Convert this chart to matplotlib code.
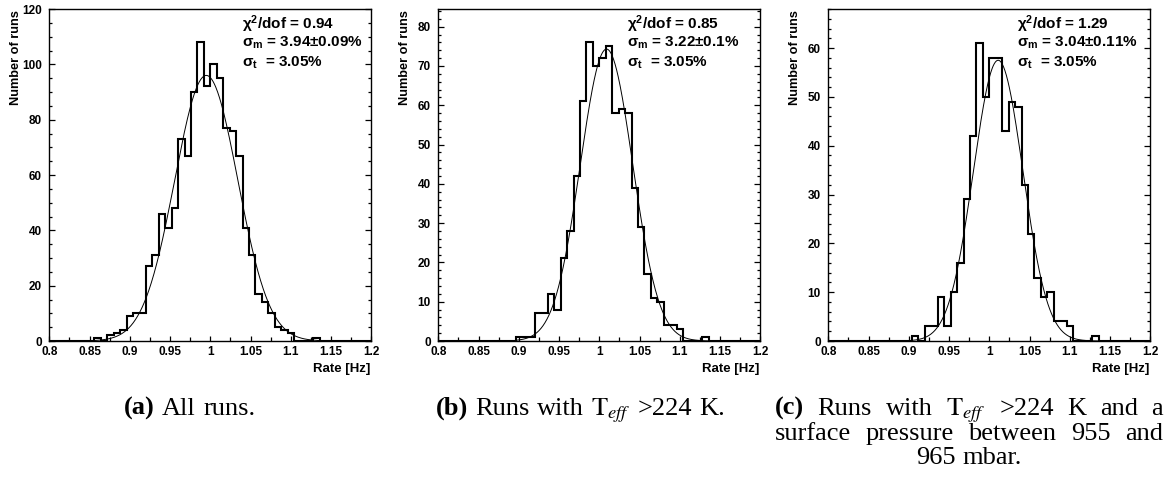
import numpy as np
import matplotlib
matplotlib.use("Agg")
import matplotlib.pyplot as plt
from matplotlib.ticker import MultipleLocator

W, H = 1167, 492
plt.rcParams.update({
    'font.family': ['Liberation Sans', 'DejaVu Sans'],
    'mathtext.fontset': 'custom',
    'mathtext.rm': 'Liberation Sans:bold',
    'mathtext.it': 'Liberation Sans:italic:bold',
    'mathtext.bf': 'Liberation Sans:bold',
})

# ---------------- data ----------------
hist_range = (0.8, 1.2)
n_bins = 50

counts_a = [0, 0, 0, 0, 0, 0, 0, 1, 0, 2,
            3, 4, 9, 10, 10, 27, 31, 46, 41, 48,
            73, 67, 90, 108, 92, 100, 95, 77, 76, 67,
            41, 31, 17, 14, 10, 5, 4, 3, 0, 0,
            0, 1, 0, 0, 0, 0, 0, 0, 0, 0]
counts_b = [0, 0, 0, 0, 0, 0, 0, 0, 0, 0,
            0, 0, 1, 1, 1, 7, 7, 12, 8, 21,
            28, 42, 61, 76, 70, 72, 75, 58, 59, 58,
            39, 29, 17, 11, 10, 4, 4, 3, 0, 0,
            0, 1, 0, 0, 0, 0, 0, 0, 0, 0]
counts_c = [0, 0, 0, 0, 0, 0, 0, 0, 0, 0,
            0, 0, 0, 1, 0, 3, 3, 9, 3, 10,
            16, 29, 42, 61, 50, 58, 58, 43, 49, 48,
            32, 22, 13, 9, 10, 4, 4, 3, 0, 0,
            0, 1, 0, 0, 0, 0, 0, 0, 0, 0]

# Gaussian fits: amplitude, mean, sigma, drawn range
fit_a = (96.0, 0.995, 0.0392, 0.856, 1.136)
fit_b = (74.3, 1.009, 0.0325, 0.896, 1.136)
fit_c = (57.5, 1.011, 0.0307, 0.904, 1.136)

stats_a = ("0.94", "3.94", "0.09", "3.05")
stats_b = ("0.85", "3.22", "0.1", "3.05")
stats_c = ("1.29", "3.04", "0.11", "3.05")

y_max = (120, 84.5, 68)
y_major = (20, 10, 10)
y_minor = (5, 2, 2)

x_ticks = [0.8, 0.85, 0.9, 0.95, 1.0, 1.05, 1.1, 1.15, 1.2]
x_tick_labels = ["0.8", "0.85", "0.9", "0.95", "1", "1.05", "1.1", "1.15", "1.2"]

y_label = "Number of runs"
x_label = "Rate [Hz]"

# ---------------- layout (pixels) ----------------
panel_left = (49.3, 438.3, 828.3)
panel_width = 322.0
ax_top, ax_bottom = 9.0, 341.0
stats_x = (0.597, 0.586, 0.586)

fig = plt.figure(figsize=(W / 100, H / 100), dpi=100)

counts_all = (counts_a, counts_b, counts_c)
fits = (fit_a, fit_b, fit_c)
stats = (stats_a, stats_b, stats_c)
edges = np.linspace(hist_range[0], hist_range[1], n_bins + 1)

for i in range(3):
    l = panel_left[i]
    ax = fig.add_axes([l / W, 1 - ax_bottom / H, panel_width / W, (ax_bottom - ax_top) / H])
    ax.stairs(counts_all[i], edges, color='black', lw=1.5, baseline=0)
    amp, mu, sig, lo, hi = fits[i]
    xs = np.linspace(lo, hi, 500)
    ax.plot(xs, amp * np.exp(-0.5 * ((xs - mu) / sig) ** 2), color='black', lw=0.7)
    ax.set_xlim(*hist_range)
    ax.set_ylim(0, y_max[i])
    ax.set_xticks(x_ticks)
    ax.set_xticklabels(x_tick_labels)
    ax.xaxis.set_minor_locator(MultipleLocator(0.025))
    ax.yaxis.set_major_locator(MultipleLocator(y_major[i]))
    ax.yaxis.set_minor_locator(MultipleLocator(y_minor[i]))
    ax.tick_params(which='both', direction='in', right=True, top=False, labelsize=8.5,
                   width=0.9)
    ax.tick_params(axis='y', which='both', pad=5.5)
    ax.tick_params(axis='x', which='both', pad=3.5)
    ax.tick_params(axis='y', which='major', length=4.5)
    ax.tick_params(axis='y', which='minor', length=2.3)
    ax.tick_params(axis='x', which='major', length=3.8)
    ax.tick_params(axis='x', which='minor', length=3.0)
    for lab in ax.get_xticklabels() + ax.get_yticklabels():
        lab.set_fontweight('bold')
    for sp in ax.spines.values():
        sp.set_linewidth(1.0)

    chi, sm, dsm, st = stats[i]
    sx = stats_x[i]
    kw = dict(transform=ax.transAxes, fontsize=11, fontweight='bold',
              math_fontfamily='custom', va='baseline', ha='left')
    ax.text(sx, 1 - (29 - ax_top) / (ax_bottom - ax_top), r"$\mathrm{\chi^{2}}$/dof = " + chi, **kw)
    ax.text(sx, 1 - (47 - ax_top) / (ax_bottom - ax_top), r"$\mathrm{\sigma_{m}}$ = " + sm + "\u00b1" + dsm + "%", **kw)
    ax.text(sx, 1 - (66.5 - ax_top) / (ax_bottom - ax_top), r"$\mathrm{\sigma_{t}}$  = " + st + "%", **kw)

    fig.text((l - 33.5) / W, 1 - 10 / H, y_label, rotation=90, ha='center', va='top',
             fontsize=9.2, fontweight='bold')
    fig.text((l + panel_width - 1) / W, 1 - 369 / H, x_label, ha='right', va='center',
             fontsize=9.5, fontweight='bold')

# ---------------- captions ----------------
serif = ['Liberation Serif', 'DejaVu Serif']
cap_size = 19


def R(txt, bold=False):
    return (txt, dict(family=serif, fontsize=cap_size,
                      fontweight='bold' if bold else 'normal', math_fontfamily='stix'))


fig.canvas.draw()
rend = fig.canvas.get_renderer()
space_px = 0.25 * cap_size * 100 / 72


def layout_line(words, y_px, x0=None, x1=None, center=None, gap=None):
    placed, widths = [], []
    for word in words:
        parts, wsum = [], 0.0
        for txt, kw in word:
            t = fig.text(0, 0, txt, ha='left', va='baseline', **kw)
            w = t.get_window_extent(rend).width
            parts.append((t, wsum))
            wsum += w
        placed.append(parts)
        widths.append(wsum)
    total = sum(widths)
    if x0 is not None and x1 is not None:
        g = (x1 - x0 - total) / (len(words) - 1)
        start = x0
    else:
        g = space_px if gap is None else gap
        start = center - (total + g * (len(words) - 1)) / 2
    x = start
    for parts, w in zip(placed, widths):
        for t, off in parts:
            t.set_position(((x + off) / W, 1 - y_px / H))
        x += w + g


T_eff = r"$\mathrm{T}_{eff}$"
cap_a = [[R("(a)", True)], [R("All")], [R("runs.")]]
cap_b = [[R("(b)", True)], [R("Runs")], [R("with")], [R(T_eff)], [R(">224")], [R("K.")]]
cap_c1 = [[R("(c)", True)], [R("Runs")], [R("with")], [R(T_eff)], [R(">224")], [R("K")],
          [R("and")], [R("a")]]
cap_c2 = [[R("surface")], [R("pressure")], [R("between")], [R("955")], [R("and")]]
cap_c3 = [[R("965")], [R("mbar.")]]

layout_line(cap_a, 415, center=189.5, gap=7.5)
layout_line(cap_b, 415, center=580.5, gap=7.0)
layout_line(cap_c1, 415, x0=775, x1=1163)
layout_line(cap_c2, 440, x0=775, x1=1163)
layout_line(cap_c3, 464, center=969)

fig.savefig("out.png", dpi=100)
